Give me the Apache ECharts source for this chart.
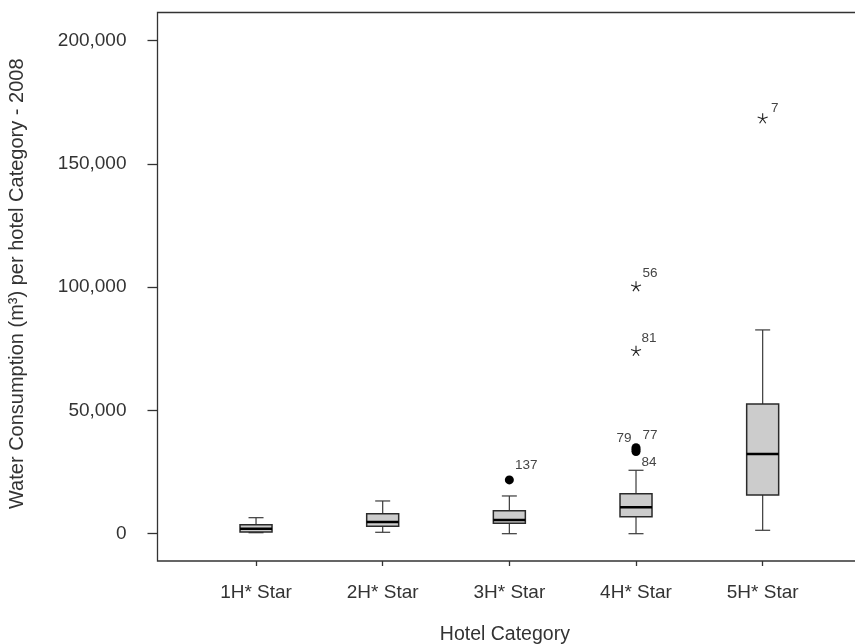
<!DOCTYPE html>
<html>
<head>
<meta charset="utf-8">
<script src="https://cdn.jsdelivr.net/npm/echarts@6/dist/echarts.min.js"></script>
<style>
  html, body { margin: 0; padding: 0; background: #ffffff; }
  #chart { width: 855px; height: 644px; }
</style>
</head>
<body>
<div id="chart"></div>
<script>
// ---- Data ----
const categories = ['1H* Star', '2H* Star', '3H* Star', '4H* Star', '5H* Star'];
const whiskerLow  = [400,   570,   0,     0,     1380];
const q1          = [690,   3000,  4220,  6900,  15700];
const median      = [2030,  4750,  5560,  10710, 32330];
const q3          = [3650,  8110,  9330,  16230, 52620];
const whiskerHigh = [6490,  13270, 15300, 25720, 82640];

const outlierCategory = ['3H* Star', '4H* Star', '4H* Star', '4H* Star', '4H* Star', '4H* Star', '5H* Star'];
const outlierValue    = [21800, 34850, 34100, 33350, 100400, 74200, 168500];
const outlierId       = ['137', '79', '77', '84', '56', '81', '7'];
const outlierKind     = ['mild', 'mild', 'mild', 'mild', 'extreme', 'extreme', 'extreme'];

const yTicks = [0, 50000, 100000, 150000, 200000];
const yMin = -11075;
const yMax = 211370;

const xTitle = 'Hotel Category';
const yTitle = 'Water Consumption (m\u00B3) per hotel Category - 2008';

// ---- Styling / label placement (not data) ----
const labelOffsets = {
  '137': [17, -15], '79': [-12, -9], '77': [14, -14], '84': [13, 11],
  '56': [14, -13], '81': [13, -12], '7': [12, -10]
};
const FONT = 'Liberation Sans, Arial, Helvetica, sans-serif';
const fmt = v => v.toLocaleString('en-US');

const boxData = categories.map((c, i) => [i, whiskerLow[i], q1[i], median[i], q3[i], whiskerHigh[i]]);

function renderBox(params, api) {
  const idx = api.value(0);
  const pLow = api.coord([idx, api.value(1)]);
  const pQ1 = api.coord([idx, api.value(2)]);
  const pMed = api.coord([idx, api.value(3)]);
  const pQ3 = api.coord([idx, api.value(4)]);
  const pHigh = api.coord([idx, api.value(5)]);
  const cx = pMed[0];
  const halfBox = 16;
  const halfCap = 7.5;
  const lineStyle = { stroke: '#3a3a3a', lineWidth: 1.2, fill: null };
  return {
    type: 'group',
    children: [
      { type: 'line', shape: { x1: cx, y1: pQ3[1], x2: cx, y2: pHigh[1] }, style: lineStyle },
      { type: 'line', shape: { x1: cx, y1: pQ1[1], x2: cx, y2: pLow[1] }, style: lineStyle },
      { type: 'line', shape: { x1: cx - halfCap, y1: pHigh[1], x2: cx + halfCap, y2: pHigh[1] }, style: lineStyle },
      { type: 'line', shape: { x1: cx - halfCap, y1: pLow[1], x2: cx + halfCap, y2: pLow[1] }, style: lineStyle },
      { type: 'rect', shape: { x: cx - halfBox, y: pQ3[1], width: halfBox * 2, height: pQ1[1] - pQ3[1] },
        style: { fill: '#cccccc', stroke: '#2a2a2a', lineWidth: 1.5 } },
      { type: 'line', shape: { x1: cx - halfBox, y1: pMed[1], x2: cx + halfBox, y2: pMed[1] },
        style: { stroke: '#000000', lineWidth: 2.6 } }
    ]
  };
}

const starPath = 'path://M0,-5L0,0M4.755,-1.545L0,0M2.939,4.045L0,0M-2.939,4.045L0,0M-4.755,-1.545L0,0';

function outlierPoints(kind) {
  const out = [];
  outlierValue.forEach((v, i) => {
    if (outlierKind[i] !== kind) return;
    const id = outlierId[i];
    out.push({
      value: [outlierCategory[i], v],
      label: {
        show: true, formatter: id, position: 'inside',
        offset: labelOffsets[id] || [12, -12],
        color: '#444', fontSize: 13.5, fontFamily: FONT
      }
    });
  });
  return out;
}

const chart = echarts.init(document.getElementById('chart'), null, { renderer: 'canvas' });
chart.setOption({
  backgroundColor: '#ffffff',
  animation: false,
  grid: [
    { left: 157.5, width: 740, top: 12.5, bottom: 83, outerBoundsMode: 'none', containLabel: false,
      show: true, borderColor: '#333', borderWidth: 1.3, backgroundColor: 'transparent' },
    { left: 192.7, width: 633.3, top: 12.5, bottom: 83, outerBoundsMode: 'none', containLabel: false }
  ],
  xAxis: [
    { gridIndex: 0, type: 'value', show: false, min: 0, max: 1 },
    {
      gridIndex: 1, type: 'category', data: categories,
      axisLine: { show: false, onZero: false },
      axisTick: { show: true, alignWithLabel: true, length: 5, lineStyle: { color: '#333', width: 1.3 } },
      axisLabel: { color: '#333', fontSize: 19, fontFamily: FONT, margin: 22 },
      name: xTitle, nameLocation: 'middle', nameGap: 64,
      nameTextStyle: { color: '#333', fontSize: 19.5, fontFamily: FONT, padding: [0, 9, 0, 0] }
    }
  ],
  yAxis: [
    {
      gridIndex: 0, type: 'value', min: yMin, max: yMax,
      axisLine: { show: false },
      splitLine: { show: false },
      axisTick: { show: true, customValues: yTicks, length: 10, lineStyle: { color: '#333', width: 1.3 } },
      axisLabel: { customValues: yTicks, formatter: v => fmt(v), color: '#333', fontSize: 19, fontFamily: FONT, margin: 31 },
      name: yTitle, nameLocation: 'middle', nameGap: 130,
      nameTextStyle: { color: '#333', fontSize: 20, fontFamily: FONT, padding: [0, 0, 0, 6] }
    },
    { gridIndex: 1, type: 'value', min: yMin, max: yMax, show: false }
  ],
  series: [
    {
      type: 'custom', xAxisIndex: 1, yAxisIndex: 1,
      renderItem: renderBox,
      encode: { x: 0, y: [1, 2, 3, 4, 5] },
      data: boxData, z: 2
    },
    {
      type: 'scatter', xAxisIndex: 1, yAxisIndex: 1,
      symbol: 'circle', symbolSize: 9,
      itemStyle: { color: '#000', opacity: 1 },
      data: outlierPoints('mild'), z: 3
    },
    {
      type: 'scatter', xAxisIndex: 1, yAxisIndex: 1,
      symbol: starPath, symbolSize: 10,
      itemStyle: { color: 'transparent', borderColor: '#222', borderWidth: 1.1, opacity: 1 },
      data: outlierPoints('extreme'), z: 3
    }
  ]
});
</script>
</body>
</html>
